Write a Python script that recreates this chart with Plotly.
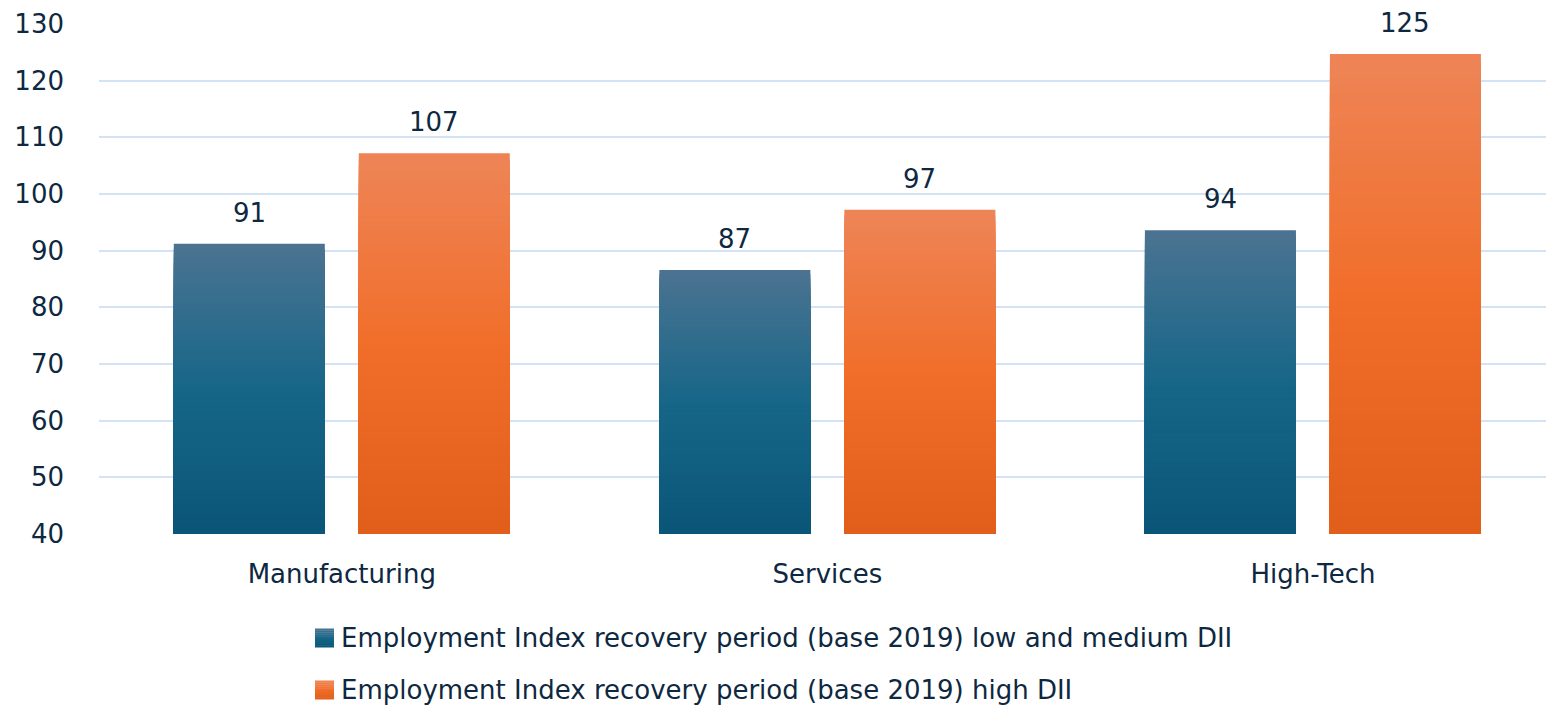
import plotly.graph_objects as go

categories = ["Manufacturing", "Services", "High-Tech"]
low_medium_dii = [91.2, 86.6, 93.6]
high_dii = [107.2, 97.2, 124.7]
series_names = [
    "Employment Index recovery period (base 2019) low and medium DII",
    "Employment Index recovery period (base 2019) high DII",
]
value_labels_low = ["91", "87", "94"]
value_labels_high = ["107", "97", "125"]

Y_MIN, Y_MAX = 40, 130
TEXT = "#0E2841"
GRID = "#D3E3F4"
FONT = "DejaVu Sans"
FS = 26

W, H = 1546, 706
ML, MR, MT, MB = 99, 0, 24, 172
PW, PH = W - ML - MR, H - MT - MB

BAR_W = 0.311
OFFSETS = [-0.346, 0.035]
# gradient stops (top -> middle -> bottom)
GRADS = [
    [(75, 115, 145), (22, 102, 136), (10, 85, 119)],
    [(238, 132, 86), (241, 110, 42), (224, 94, 26)],
]


def grad_color(stops, t):
    # t: 0 at top, 1 at bottom
    if t <= 0.5:
        a, b, u = stops[0], stops[1], t / 0.5
    else:
        a, b, u = stops[1], stops[2], (t - 0.5) / 0.5
    c = [round(a[i] + (b[i] - a[i]) * u) for i in range(3)]
    return f"rgb({c[0]},{c[1]},{c[2]})"


fig = go.Figure()
N = 60
for s, vals in enumerate([low_medium_dii, high_dii]):
    for k in range(N, 0, -1):
        f = k / N
        fig.add_trace(go.Bar(
            x=categories,
            y=[(v - Y_MIN) * f for v in vals],
            base=Y_MIN,
            width=BAR_W,
            offset=OFFSETS[s],
            marker=dict(color=grad_color(GRADS[s], 1 - f), line=dict(width=0)),
            name=series_names[s],
            showlegend=False,
            hoverinfo="skip",
        ))

annotations = []
for s, (vals, labs) in enumerate([(low_medium_dii, value_labels_low), (high_dii, value_labels_high)]):
    for i, (v, lab) in enumerate(zip(vals, labs)):
        annotations.append(dict(
            x=i + OFFSETS[s] + BAR_W / 2, y=v, xref="x", yref="y",
            text=lab, showarrow=False, yanchor="middle", yshift=31,
            font=dict(family=FONT, size=FS, color=TEXT),
        ))

# legend drawn below the plot (paper coordinates)
shapes = []
legend_rows_px = [638, 690]
SQ_L, SQ_R, SQ_HALF, TEXT_L = 315, 334, 9.5, 339
NS = 10
for s in range(2):
    yc = legend_rows_px[s]
    annotations.append(dict(
        x=(TEXT_L - ML) / PW, y=-(yc - (MT + PH)) / PH, xref="paper", yref="paper",
        xanchor="left", yanchor="middle", text=series_names[s], showarrow=False,
        font=dict(family=FONT, size=FS, color=TEXT),
    ))
    top = yc - SQ_HALF
    step = 2 * SQ_HALF / NS
    for j in range(NS):
        y0 = top + j * step
        y1 = y0 + step + 0.3
        shapes.append(dict(
            type="rect", xref="paper", yref="paper",
            x0=(SQ_L - ML) / PW, x1=(SQ_R - ML) / PW,
            y0=-(y0 - (MT + PH)) / PH, y1=-(min(y1, yc + SQ_HALF) - (MT + PH)) / PH,
            fillcolor=grad_color(GRADS[s], (j + 0.5) / NS), line=dict(width=0),
        ))

fig.update_layout(
    width=W, height=H,
    margin=dict(l=ML, r=MR, t=MT, b=MB),
    paper_bgcolor="white", plot_bgcolor="white",
    barmode="overlay",
    font=dict(family=FONT, size=FS, color=TEXT),
    annotations=annotations,
    shapes=shapes,
    showlegend=False,
    xaxis=dict(
        type="category", range=[-0.5, 2.48],
        showgrid=False, zeroline=False, showline=False,
        ticks="", ticklabelstandoff=22,
        tickfont=dict(family=FONT, size=FS, color=TEXT),
    ),
    yaxis=dict(
        range=[Y_MIN, Y_MAX], dtick=10, tick0=40,
        showgrid=True, gridcolor=GRID, gridwidth=1.5,
        zeroline=False, showline=False, ticks="",
        ticklabelstandoff=34,
        tickfont=dict(family=FONT, size=FS, color=TEXT),
    ),
)

fig.write_html("out.html")
